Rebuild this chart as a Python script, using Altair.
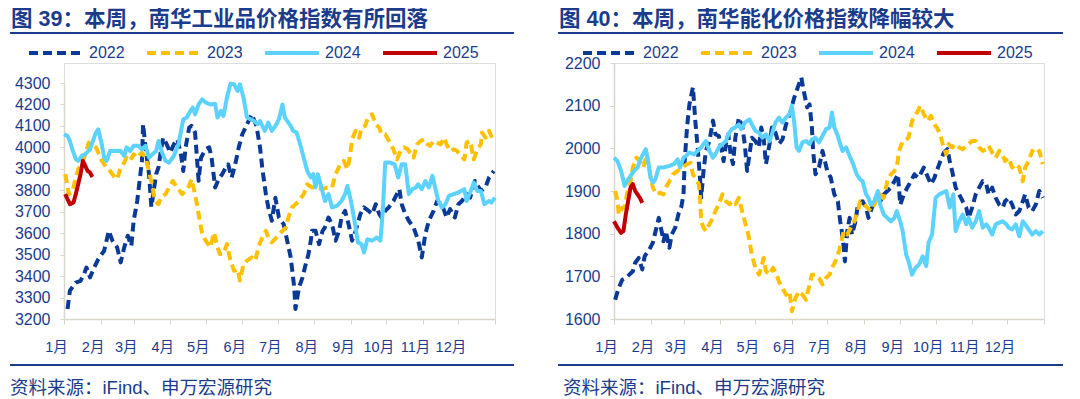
import json
import altair as alt
import pandas as pd

FONT = "'Liberation Sans', 'Noto Sans CJK SC', sans-serif"
BLUE = "#1B3C8C"
AXIS_C = "#D9D6CC"
YEARS = ["2022", "2023", "2024", "2025"]
COLORS = ["#0A3A96", "#FFC000", "#5CD2FF", "#C00000"]
DASHES = [[9, 5], [9, 5], [1, 0], [1, 0]]
MONTH_START = [0, 31, 59, 90, 120, 151, 181, 212, 243, 273, 304, 334, 365]
MONTH_LABELS = ["1月", "2月", "3月", "4月", "5月", "6月", "7月", "8月", "9月", "10月", "11月", "12月"]

TITLE_L = "图 39：本周，南华工业品价格指数有所回落"
TITLE_R = "图 40：本周，南华能化价格指数降幅较大"
SOURCE = "资料来源：iFind、申万宏源研究"

# ---- 南华工业品指数 (day of year, index) ----
IND_2022 = [(3,3247),(5,3332),(10,3370),(14,3378),(17,3410),(19,3440),(22,3394),(25,3433),(29,3479),(34,3518),
            (38,3611),(41,3565),(45,3534),(48,3464),(51,3534),(54,3588),(57,3541),(59,3658),(62,3750),(64,3843),
            (66,3937),(67,4108),(69,4000),(72,3875),(74,3722),(76,3797),(78,3875),(80,3906),(82,3983),(84,4045),
            (87,4014),(90,3976),(93,4014),(96,4038),(99,3968),(101,3890),(103,4000),(106,4092),(108,4100),(111,4069),
            (114,3844),(116,3952),(120,3991),(123,4000),(125,3952),(128,3813),(131,3852),(134,3875),(137,3906),(139,3921),
            (142,3860),(145,3921),(148,4000),(151,4061),(155,4108),(159,4154),(163,4100),(166,4000),(168,3900),(171,3780),
            (173,3720),(176,3658),(179,3765),(182,3673),(186,3642),(189,3565),(192,3487),(193,3440),(195,3347),(196,3247),
            (199,3347),(202,3394),(204,3440),(207,3502),(209,3565),(210,3611),(213,3611),(216,3549),(219,3611),(221,3627),
            (224,3673),(227,3642),(230,3565),(233,3611),(235,3673),(238,3704),(241,3642),(244,3565),(247,3611),(251,3689),
            (254,3720),(258,3704),(261,3689),(264,3735),(267,3689),(269,3673),(272,3704),(275,3720),(279,3750),(284,3805),
            (286,3735),(289,3689),(292,3658),(296,3627),(300,3565),(303,3487),(306,3596),(309,3658),(313,3704),(316,3750),
            (320,3735),(324,3673),(327,3712),(331,3673),(334,3735),(337,3750),(341,3782),(344,3766),(348,3843),(353,3797),
            (357,3813),(360,3860),(364,3890)]
IND_2023 = [(1,3875),(3,3821),(4,3782),(7,3790),(10,3860),(12,3898),(15,3921),(18,3968),(21,4022),(24,4014),
            (27,4000),(29,3976),(32,3937),(36,3906),(39,3890),(42,3867),(45,3852),(48,3906),(51,3929),(53,3952),
            (56,3937),(59,3968),(62,3952),(66,3976),(69,3952),(72,3890),(75,3813),(77,3750),(80,3735),(82,3766),
            (86,3782),(89,3813),(92,3843),(94,3828),(97,3805),(100,3782),(103,3797),(106,3821),(108,3852),(111,3782),
            (114,3689),(117,3596),(120,3565),(124,3534),(127,3603),(130,3534),(132,3503),(135,3503),(138,3549),(141,3472),
            (144,3425),(147,3433),(149,3379),(152,3456),(155,3472),(159,3487),(162,3472),(165,3541),(168,3580),(171,3611),
            (173,3580),(176,3557),(180,3580),(185,3611),(188,3627),(190,3673),(193,3720),(196,3735),(199,3750),(203,3782),
            (206,3828),(210,3813),(214,3813),(219,3805),(223,3813),(227,3813),(230,3875),(234,3921),(237,3937),(240,3898),
            (242,3952),(244,4038),(247,4077),(250,4045),(252,4092),(255,4100),(258,4146),(261,4154),(264,4108),(267,4092),
            (269,4061),(272,4061),(276,4022),(279,3991),(282,3944),(285,3983),(288,4000),(291,3991),(293,3976),(296,3952),
            (299,4014),(302,4030),(305,4038),(308,4014),(310,4007),(313,4030),(316,4022),(319,4014),(322,4045),(324,4014),
            (327,3983),(330,3991),(333,3983),(336,3960),(339,3944),(341,4022),(344,4030),(347,3944),(350,3991),(353,4014),
            (354,4069),(357,4045),(360,4077),(363,4038)]
IND_2024 = [(0,4061),(3,4053),(5,4030),(7,3991),(10,3945),(12,3937),(15,3960),(18,3968),(22,3991),(24,4022),
            (27,4069),(29,4084),(32,4014),(34,3952),(36,3937),(39,3983),(44,3983),(48,3983),(51,3960),(53,4000),
            (56,3983),(59,4007),(63,4007),(66,3991),(69,4007),(72,3952),(75,3968),(78,3983),(80,4030),(83,3976),
            (86,3937),(89,3929),(93,3960),(97,4014),(101,4131),(104,4139),(107,4170),(109,4185),(111,4154),(114,4200),
            (117,4224),(120,4209),(124,4200),(128,4203),(130,4139),(133,4170),(135,4146),(138,4232),(141,4297),(144,4294),
            (147,4263),(149,4294),(152,4232),(155,4139),(158,4131),(161,4123),(164,4108),(166,4123),(170,4077),(173,4115),
            (176,4077),(179,4100),(182,4131),(185,4200),(187,4139),(192,4100),(194,4077),(197,4069),(200,4014),(203,3952),
            (206,3890),(209,3860),(211,3875),(213,3813),(215,3875),(218,3813),(221,3750),(224,3782),(227,3720),(231,3727),
            (235,3750),(238,3782),(240,3820),(243,3750),(246,3658),(249,3557),(252,3549),(254,3510),(257,3572),(261,3565),
            (265,3580),(268,3565),(270,3704),(272,3929),(276,3929),(280,3921),(283,3860),(286,3921),(289,3921),(292,3782),
            (295,3805),(298,3813),(300,3828),(303,3805),(306,3843),(309,3813),(312,3867),(315,3797),(317,3750),(320,3720),
            (323,3735),(326,3774),(330,3782),(334,3790),(339,3805),(341,3750),(344,3790),(347,3836),(350,3797),(353,3797),
            (356,3735),(360,3750),(362,3743),(365,3766)]
IND_2025 = [(1,3782),(3,3759),(5,3735),(8,3743),(10,3782),(12,3828),(14,3875),(16,3937),(18,3914),(20,3890),
            (22,3883),(24,3862)]

# ---- 南华能化指数 (day of year, index) ----
ENE_2022 = [(1,1645),(4,1673),(7,1692),(10,1696),(13,1704),(16,1712),(18,1732),(21,1743),(24,1716),(26,1747),
            (30,1763),(33,1779),(35,1802),(38,1837),(41,1798),(42,1782),(44,1806),(47,1767),(49,1798),(52,1814),
            (55,1849),(57,1861),(59,1892),(60,1970),(62,2049),(64,2103),(67,2143),(69,2065),(71,2002),(73,1931),
            (74,1884),(76,1947),(78,1994),(81,2017),(84,2065),(86,2033),(89,2029),(91,2002),(93,1970),(95,2010),
            (97,2033),(99,1986),(101,1963),(103,2025),(106,2072),(109,2049),(111,2010),(113,1947),(115,1986),(117,2025),
            (120,2017),(123,2002),(125,2049),(127,2025),(129,1963),(132,2010),(134,2049),(137,2037),(140,2010),(143,2021),
            (146,2056),(150,2088),(153,2119),(156,2143),(159,2166),(161,2135),(164,2096),(166,2103),(168,2049),(169,1994),
            (171,1939),(174,1955),(177,1994),(179,1970),(181,1947),(184,1931),(187,1892),(190,1876),(192,1829),(193,1814),
            (195,1767),(196,1735),(198,1806),(200,1837),(202,1798),(205,1829),(207,1868),(211,1876),(214,1861),(216,1837),
            (219,1861),(222,1884),(226,1876),(229,1892),(232,1900),(235,1908),(238,1923),(241,1939),(243,1868),(246,1892),
            (249,1908),(252,1923),(255,1939),(258,1931),(260,1939),(263,1955),(266,1935),(269,1916),(272,1931),(274,1947),
            (277,1970),(280,1990),(283,1998),(285,1970),(287,1947),(290,1908),(293,1892),(296,1876),(299,1861),(301,1837),
            (304,1861),(307,1892),(310,1908),(313,1923),(316,1916),(318,1892),(321,1908),(324,1884),(327,1868),(330,1861),
            (332,1876),(335,1884),(338,1868),(341,1845),(344,1853),(347,1876),(349,1892),(352,1861),(355,1853),(358,1868),
            (361,1900),(364,1884)]
ENE_2023 = [(1,1900),(3,1876),(4,1845),(7,1861),(9,1861),(11,1892),(14,1923),(16,1955),(19,1978),(22,1970),
            (25,1955),(28,1986),(31,1935),(33,1908),(36,1892),(39,1896),(42,1892),(44,1908),(47,1923),(50,1939),
            (54,1947),(58,1955),(62,1963),(65,1966),(67,1939),(69,1931),(72,1916),(73,1884),(74,1829),(76,1814),
            (78,1806),(81,1822),(84,1837),(86,1853),(89,1869),(92,1892),(95,1876),(98,1869),(101,1876),(103,1869),
            (106,1884),(108,1861),(111,1829),(114,1798),(117,1751),(120,1720),(123,1704),(125,1720),(127,1743),(129,1712),
            (132,1704),(135,1720),(138,1704),(140,1688),(143,1673),(146,1657),(149,1665),(151,1618),(154,1649),(157,1665),
            (160,1657),(163,1645),(166,1681),(168,1704),(171,1704),(174,1696),(177,1681),(180,1696),(183,1704),(185,1720),
            (188,1735),(191,1759),(193,1782),(195,1806),(198,1798),(201,1814),(204,1829),(207,1853),(209,1876),(212,1869),
            (215,1861),(218,1853),(221,1869),(224,1884),(226,1892),(229,1884),(232,1923),(235,1939),(238,1947),(240,1955),
            (242,1994),(245,2017),(248,2021),(250,2025),(253,2064),(258,2088),(260,2100),(263,2080),(266,2064),(269,2076),
            (272,2056),(274,2049),(277,2033),(279,2010),(282,1986),(284,2010),(287,2002),(290,2010),(293,2002),(296,1998),
            (299,2006),(301,2010),(304,2017),(307,2017),(310,2002),(313,1994),(316,1998),(318,2006),(321,1990),(324,1978),
            (327,1994),(330,1982),(332,1970),(335,1978),(338,1955),(341,1963),(344,1955),(347,1923),(349,1955),(352,1970),
            (355,1994),(358,1986),(361,1994),(364,1963)]
ENE_2024 = [(0,1978),(3,1970),(6,1947),(9,1912),(11,1923),(14,1935),(17,1947),(20,1955),(23,1978),(27,1998),
            (29,1970),(31,1931),(33,1920),(35,1927),(38,1955),(42,1955),(47,1959),(51,1963),(54,1974),(56,1955),
            (59,1978),(61,1982),(64,1990),(68,1986),(71,1994),(74,2002),(76,2010),(78,2017),(81,1994),(84,1978),
            (86,1986),(89,2002),(92,2010),(95,2017),(97,2033),(100,2045),(103,2049),(106,2056),(108,2045),(111,2060),
            (115,2068),(117,2056),(120,2041),(123,2037),(126,2025),(129,2033),(132,2017),(134,2033),(137,2060),(140,2072),
            (143,2060),(146,2072),(149,2080),(151,2100),(153,2060),(155,2002),(157,1994),(160,2014),(163,2017),(166,2010),
            (168,2021),(171,2025),(174,2014),(177,2029),(180,2045),(183,2049),(185,2084),(187,2049),(190,2029),(192,2010),
            (194,1994),(197,2002),(200,1982),(203,1963),(206,1939),(209,1927),(211,1923),(214,1892),(216,1884),(218,1868),
            (221,1876),(224,1900),(226,1868),(229,1845),(232,1837),(235,1829),(238,1837),(240,1853),(243,1829),(245,1806),
            (248,1751),(250,1735),(253,1704),(256,1720),(259,1728),(262,1747),(265,1724),(267,1779),(270,1798),(273,1884),
            (276,1892),(279,1896),(282,1900),(285,1861),(288,1892),(290,1806),(293,1829),(296,1845),(299,1822),(301,1837),
            (304,1814),(307,1829),(310,1853),(313,1814),(316,1822),(318,1814),(321,1798),(324,1822),(327,1826),(330,1829),
            (333,1822),(335,1814),(338,1810),(341,1822),(344,1794),(347,1829),(349,1822),(352,1810),(355,1798),(358,1806),
            (361,1798),(364,1806)]
ENE_2025 = [(0,1829),(3,1814),(6,1802),(8,1806),(10,1845),(12,1876),(14,1908),(16,1916),(18,1900),(20,1892),
            (22,1884),(24,1872)]

IND_TICKS = [3200, 3300, 3400, 3500, 3600, 3700, 3800, 3900, 4000, 4100, 4200, 4300]
ENE_TICKS = [1600, 1700, 1800, 1900, 2000, 2100, 2200]

H = 256
label_expr = ("indexof(%s, datum.value) >= 0 && datum.value < 365 ? %s[indexof(%s, datum.value)] : ''"
              % (json.dumps(MONTH_START), json.dumps(MONTH_LABELS, ensure_ascii=False), json.dumps(MONTH_START)))


def panel(title, series, ydom, yticks, ytop, width, legend_x, rule_x1, rule_x2, text_x):
    rows = []
    for yr, pts in zip(YEARS, series):
        for d, v in pts:
            rows.append({"year": yr, "day": d, "val": v})
    df = pd.DataFrame(rows)
    leg = alt.Legend(orient="none", legendX=legend_x, legendY=-39, direction="horizontal", columns=4,
                     title=None, symbolType="stroke", symbolSize=2916, symbolStrokeWidth=4,
                     labelFontSize=16, labelFont=FONT, labelColor=BLUE, labelOffset=4,
                     columnPadding=14, padding=0)
    lines = alt.Chart(df).mark_line(strokeWidth=4, strokeJoin="round").encode(
        x=alt.X("day:Q", scale=alt.Scale(domain=[0, 365], nice=False, zero=False),
                axis=alt.Axis(values=MONTH_START, labelExpr=label_expr, title=None, grid=False,
                              domainColor=AXIS_C, domainWidth=1.5, tickColor=AXIS_C, tickSize=5,
                              labelFontSize=14.5, labelFont=FONT, labelColor=BLUE, labelPadding=16,
                              labelOffset=-8, labelFlush=False, labelOverlap=False)),
        y=alt.Y("val:Q", scale=alt.Scale(domain=ydom, range=[H, ytop], nice=False, zero=False),
                axis=alt.Axis(values=yticks, format="d", title=None, grid=False,
                              domainColor=AXIS_C, domainWidth=1.5, tickColor=AXIS_C, tickSize=4,
                              labelFontSize=16, labelFont=FONT, labelColor=BLUE, labelPadding=10)),
        color=alt.Color("year:N", scale=alt.Scale(domain=YEARS, range=COLORS), legend=leg),
        strokeDash=alt.StrokeDash("year:N", scale=alt.Scale(domain=YEARS, range=DASHES), legend=leg),
    )
    one = pd.DataFrame({"t": [title], "s": [SOURCE]})
    title_t = alt.Chart(one).mark_text(align="left", baseline="alphabetic", font=FONT, fontSize=21.5,
                                       fontWeight="bold", color=BLUE).encode(
        text="t:N", x=alt.value(rule_x1 + 1), y=alt.value(-37))
    top_rule = alt.Chart(one).mark_rule(color=BLUE, strokeWidth=2).encode(
        x=alt.value(rule_x1), x2=alt.value(rule_x2), y=alt.value(-30))
    bot_rule = alt.Chart(one).mark_rule(color=BLUE, strokeWidth=2).encode(
        x=alt.value(rule_x1), x2=alt.value(rule_x2), y=alt.value(H + 46))
    src = alt.Chart(one).mark_text(align="left", baseline="alphabetic", font=FONT, fontSize=18.5,
                                   color=BLUE).encode(
        text="s:N", x=alt.value(text_x), y=alt.value(H + 75))
    return alt.layer(lines, title_t, top_rule, bot_rule, src).properties(width=width, height=H)


left = panel(TITLE_L, [IND_2022, IND_2023, IND_2024, IND_2025], [3200, 4300], IND_TICKS, 20, 431,
             -37, -54, 450, -54)
right = panel(TITLE_R, [ENE_2022, ENE_2023, ENE_2024, ENE_2025], [1600, 2200], ENE_TICKS, 0, 430,
              -33, -56, 449, -51)

chart = alt.hconcat(left, right, spacing=40).resolve_scale(
    x="independent", y="independent", color="independent", strokeDash="independent"
).resolve_legend(color="independent", strokeDash="independent").properties(
    padding=0
).configure_view(stroke=None).configure(background="white")

chart.save("out.html", embed_options={"renderer": "svg", "actions": False})
